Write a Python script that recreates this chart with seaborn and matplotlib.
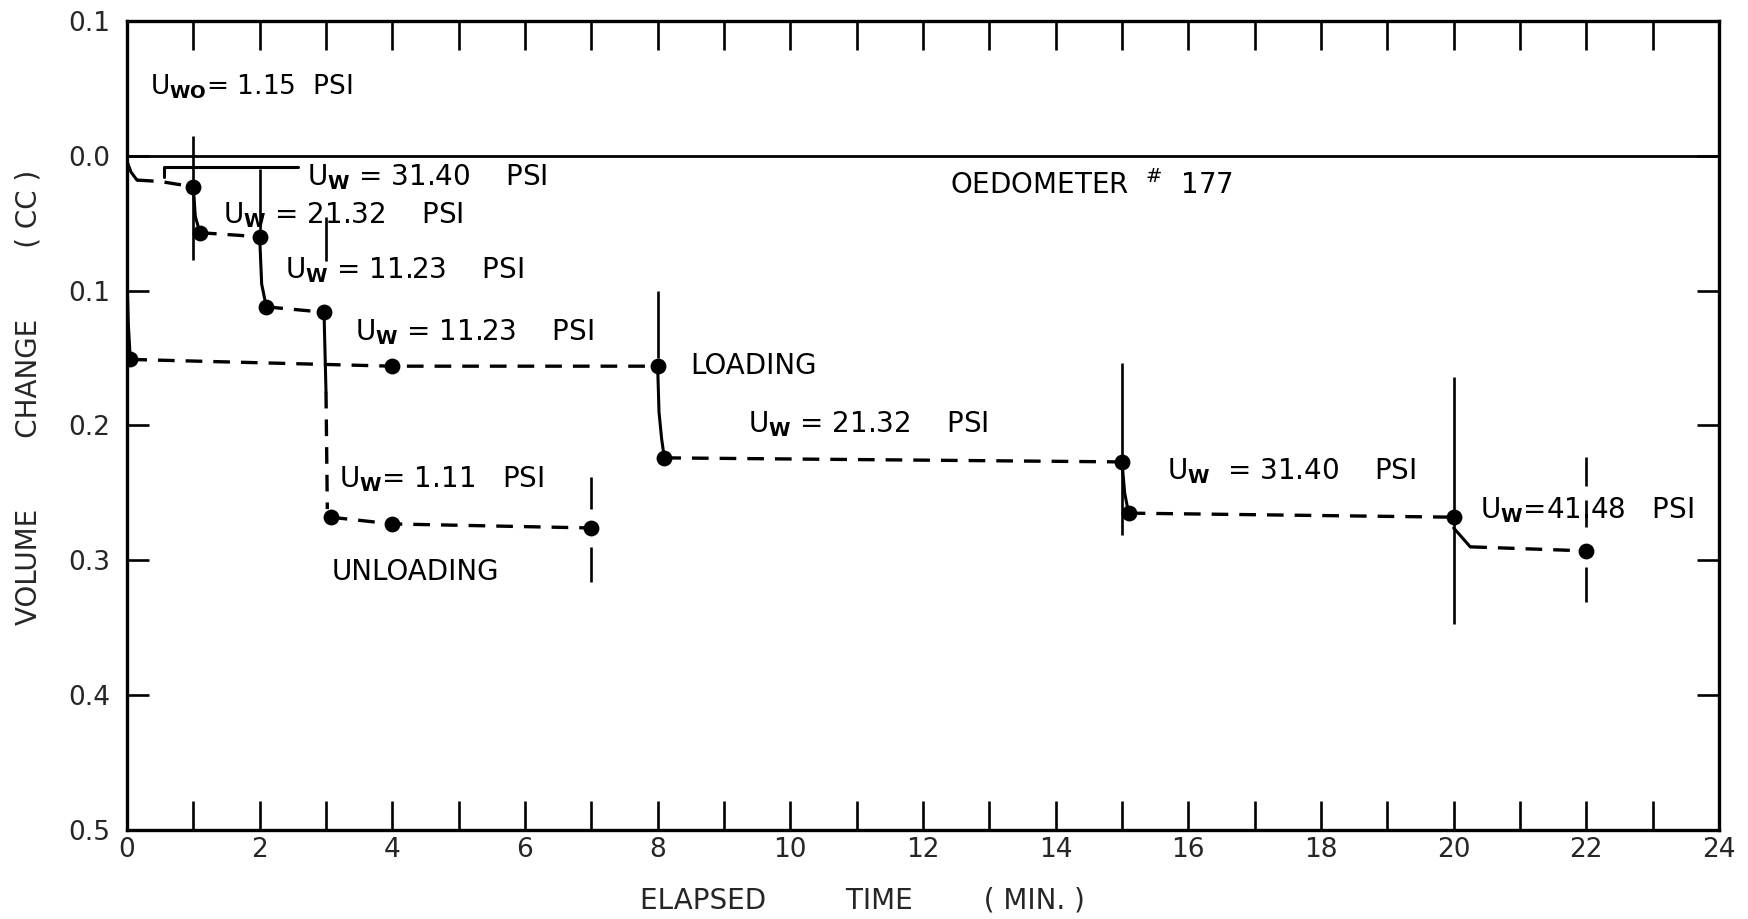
import matplotlib
matplotlib.use("Agg")
import matplotlib.pyplot as plt
import seaborn as sns
import pandas as pd

# ---------------- data ----------------
# measured points: elapsed time (min) and volume change (cc)
point_time = [0.05, 1.0, 1.1, 2.0, 2.1, 2.97, 3.07, 4.0, 7.0,
              4.0, 8.0, 8.1, 15.0, 15.1, 20.0, 22.0]
point_vol = [0.151, 0.023, 0.057, 0.060, 0.112, 0.116, 0.268, 0.273, 0.276,
             0.156, 0.156, 0.224, 0.227, 0.265, 0.268, 0.293]

# dashed creep runs at constant pore pressure
creep_t_1 = [0.15, 0.5, 1.0];     creep_v_1 = [0.018, 0.019, 0.023]
creep_t_2 = [1.1, 2.0];           creep_v_2 = [0.057, 0.060]
creep_t_3 = [2.1, 2.97];          creep_v_3 = [0.112, 0.116]
creep_t_4 = [3.0, 3.02];          creep_v_4 = [0.175, 0.262]
creep_t_5 = [3.07, 4.0, 7.0];     creep_v_5 = [0.268, 0.273, 0.276]
creep_t_6 = [0.05, 4.0, 8.0];     creep_v_6 = [0.151, 0.156, 0.156]
creep_t_7 = [8.1, 15.0];          creep_v_7 = [0.224, 0.227]
creep_t_8 = [15.1, 20.0];         creep_v_8 = [0.265, 0.268]
creep_t_9 = [20.25, 22.0];        creep_v_9 = [0.290, 0.293]

# solid immediate-change strokes
drop_t_1 = [0.0, 0.06, 0.15];        drop_v_1 = [0.004, 0.012, 0.018]
drop_t_2 = [1.0, 1.03, 1.1];         drop_v_2 = [0.023, 0.045, 0.057]
drop_t_3 = [2.0, 2.03, 2.1];         drop_v_3 = [0.060, 0.095, 0.112]
drop_t_4 = [2.97, 3.0];              drop_v_4 = [0.116, 0.175]
drop_t_5 = [0.0, 0.02, 0.05];        drop_v_5 = [0.089, 0.125, 0.151]
drop_t_6 = [8.0, 8.02, 8.06, 8.1];   drop_v_6 = [0.156, 0.190, 0.210, 0.224]
drop_t_7 = [15.0, 15.04, 15.1];      drop_v_7 = [0.227, 0.250, 0.265]
drop_t_8 = [20.0, 20.25];            drop_v_8 = [0.276, 0.290]
lead_t = [0.56, 0.56, 2.58];         lead_v = [0.016, 0.0085, 0.0085]

# vertical marks at pressure changes
mark_time = [1, 2, 3, 7, 7, 8, 15, 20, 22, 22, 22]
mark_low = [-0.015, 0.010, 0.045, 0.238, 0.290, 0.100, 0.154, 0.164, 0.223, 0.255, 0.305]
mark_high = [0.077, 0.060, 0.078, 0.262, 0.316, 0.150, 0.281, 0.347, 0.245, 0.275, 0.331]

# annotations
label_text = [r"U$_{\mathbf{WO}}$= 1.15  PSI",
              r"U$_{\mathbf{W}}$ = 31.40    PSI",
              r"U$_{\mathbf{W}}$ = 21.32    PSI",
              r"U$_{\mathbf{W}}$ = 11.23    PSI",
              r"U$_{\mathbf{W}}$ = 11.23    PSI",
              "LOADING",
              r"U$_{\mathbf{W}}$ = 21.32    PSI",
              r"U$_{\mathbf{W}}$= 1.11   PSI",
              "UNLOADING",
              r"OEDOMETER  $^{\#}$  177",
              r"U$_{\mathbf{W}}$  = 31.40    PSI",
              r"U$_{\mathbf{W}}$=41.48   PSI"]
label_size = [19, 20, 20, 20, 20, 20, 20, 20, 20, 20, 20, 20]
label_time = [0.35, 2.71, 1.45, 2.38, 3.43, 8.49, 9.36, 3.2, 3.08, 12.4, 15.68, 20.4]
label_vol = [-0.051, 0.016, 0.044, 0.085, 0.131, 0.156, 0.199, 0.240, 0.309, 0.022, 0.234, 0.263]

x_ticks = list(range(0, 25, 2))
y_ticks = [-0.1, 0.0, 0.1, 0.2, 0.3, 0.4, 0.5]
y_tick_labels = ["0.1", "0.0", "0.1", "0.2", "0.3", "0.4", "0.5"]

# ---------------- build tables ----------------
creeps = [(creep_t_1, creep_v_1), (creep_t_2, creep_v_2), (creep_t_3, creep_v_3),
          (creep_t_4, creep_v_4), (creep_t_5, creep_v_5), (creep_t_6, creep_v_6),
          (creep_t_7, creep_v_7), (creep_t_8, creep_v_8), (creep_t_9, creep_v_9)]
drops = [(drop_t_1, drop_v_1), (drop_t_2, drop_v_2), (drop_t_3, drop_v_3),
         (drop_t_4, drop_v_4), (drop_t_5, drop_v_5), (drop_t_6, drop_v_6),
         (drop_t_7, drop_v_7), (drop_t_8, drop_v_8), (lead_t, lead_v)]


def to_frame(runs):
    rows = []
    for i, (ts, vs) in enumerate(runs):
        for t, v in zip(ts, vs):
            rows.append({"t": t, "v": v, "run": i})
    return pd.DataFrame(rows)


creep_df = to_frame(creeps)
drop_df = to_frame(drops)
pts_df = pd.DataFrame({"t": point_time, "v": point_vol})

# ---------------- plot ----------------
sns.set_style("white")
plt.rcParams["font.family"] = ["DejaVu Sans"]
plt.rcParams["mathtext.fontset"] = "dejavusans"

fig = plt.figure(figsize=(17.48, 9.19), dpi=100)
ax = fig.add_axes([127 / 1748, 1 - 830 / 919, 1592 / 1748, 809 / 919])

sns.lineplot(data=creep_df, x="t", y="v", units="run", estimator=None, sort=False,
             color="black", linewidth=2.4, linestyle=(0, (5.0, 3.3)), ax=ax, legend=False)
sns.lineplot(data=drop_df, x="t", y="v", units="run", estimator=None, sort=False,
             color="black", linewidth=2.2, ax=ax, legend=False)
ax.vlines(mark_time, mark_low, mark_high, colors="black", linewidth=1.9)
ax.axhline(0.0, color="black", linewidth=2.0)
sns.scatterplot(data=pts_df, x="t", y="v", color="black", s=130, edgecolor="black",
                linewidth=0, ax=ax, legend=False, zorder=5)

for txt, fs, tx, ty in zip(label_text, label_size, label_time, label_vol):
    ax.text(tx, ty, txt, fontsize=fs, ha="left", va="center", color="black")

ax.set_xlim(0, 24)
ax.set_ylim(0.5, -0.1)
ax.set_xticks(x_ticks)
ax.set_xticks(list(range(1, 24, 2)), minor=True)
ax.set_yticks(y_ticks)
ax.set_yticklabels(y_tick_labels)
ax.tick_params(axis="x", which="both", direction="in", length=21, width=1.9,
               top=True, bottom=True, labelsize=19, pad=5, color="black")
ax.tick_params(axis="y", which="both", direction="in", length=16, width=1.9,
               left=True, right=True, labelsize=19, pad=12, color="black")
for sp in ax.spines.values():
    sp.set_linewidth(2.4)
    sp.set_color("black")

ax.set_xlabel("ELAPSED         TIME        ( MIN. )", fontsize=20)
ax.set_ylabel("VOLUME        CHANGE        ( CC )", fontsize=20)
ax.xaxis.set_label_coords(0.4617, -0.070)
ax.yaxis.set_label_coords(-0.053, 0.535)

fig.savefig("out.png", dpi=100)
